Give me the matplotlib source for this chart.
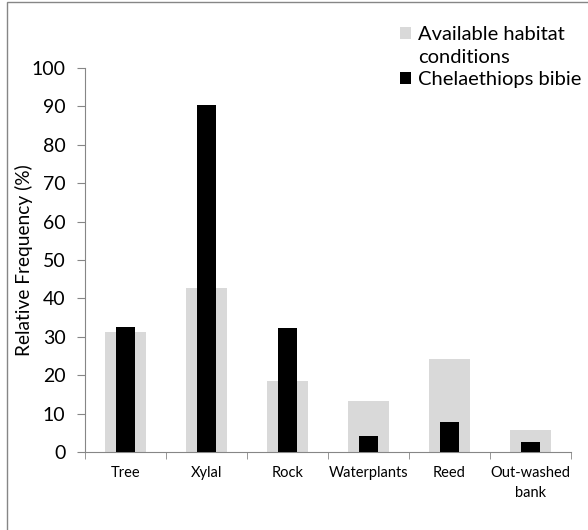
import matplotlib.pyplot as plt
from matplotlib.patches import Rectangle

# habitat categories and the two series (percent)
categories = ['Tree', 'Xylal', 'Rock', 'Waterplants', 'Reed', 'Out-washed\nbank']
available = [31.2, 42.7, 18.5, 13.3, 24.2, 5.7]
bibie = [32.5, 90.4, 32.2, 4.2, 7.8, 2.6]

plt.rcParams['font.family'] = ['Lato', 'DejaVu Sans']

fig = plt.figure(figsize=(5.88, 5.30), dpi=100)
ax = fig.add_axes([85 / 588, 1 - 452 / 530, 486 / 588, 384 / 530])

x = list(range(len(categories)))
b1 = ax.bar(x, available, width=0.51, color='#d9d9d9', zorder=2)
b2 = ax.bar(x, bibie, width=0.225, color='black', zorder=3)

ax.set_xlim(-0.5, len(categories) - 0.5)
ax.set_ylim(0, 100)
ax.set_yticks(range(0, 101, 10))
ax.tick_params(axis='y', labelsize=14, length=6, color='#868686', pad=8)

ax.set_xticks(x)
ax.set_xticklabels(categories, fontsize=10.5, linespacing=1.6)
ax.set_xticks([i - 0.5 for i in range(len(categories) + 1)], minor=True)
ax.tick_params(axis='x', which='major', length=0, pad=10)
ax.tick_params(axis='x', which='minor', length=5, color='#868686')

for s in ['top', 'right']:
    ax.spines[s].set_visible(False)
for s in ['left', 'bottom']:
    ax.spines[s].set_color('#868686')

ax.set_ylabel('Relative Frequency (%)', fontsize=13.8)
ax.yaxis.set_label_coords(-0.107, 0.5)

blank = Rectangle((0, 0), 1, 1, facecolor='none', edgecolor='none')
leg = ax.legend([b1, blank, b2],
                ['Available habitat', 'conditions', 'Chelaethiops bibie'],
                loc='upper left', bbox_to_anchor=(400 / 588, 1 - 26 / 530),
                bbox_transform=fig.transFigure, frameon=False, fontsize=14.5,
                handlelength=0.55, handleheight=0.55, handletextpad=0.35,
                labelspacing=0.28, borderpad=0, borderaxespad=0)

# outer chart frame (cut off on right and bottom)
fig.patches.append(Rectangle((7 / 588, -0.1), 1.2, 1.1 - 2 / 530,
                             transform=fig.transFigure, fill=False,
                             edgecolor='#868686', lw=1))

fig.savefig('out.png', dpi=100)
